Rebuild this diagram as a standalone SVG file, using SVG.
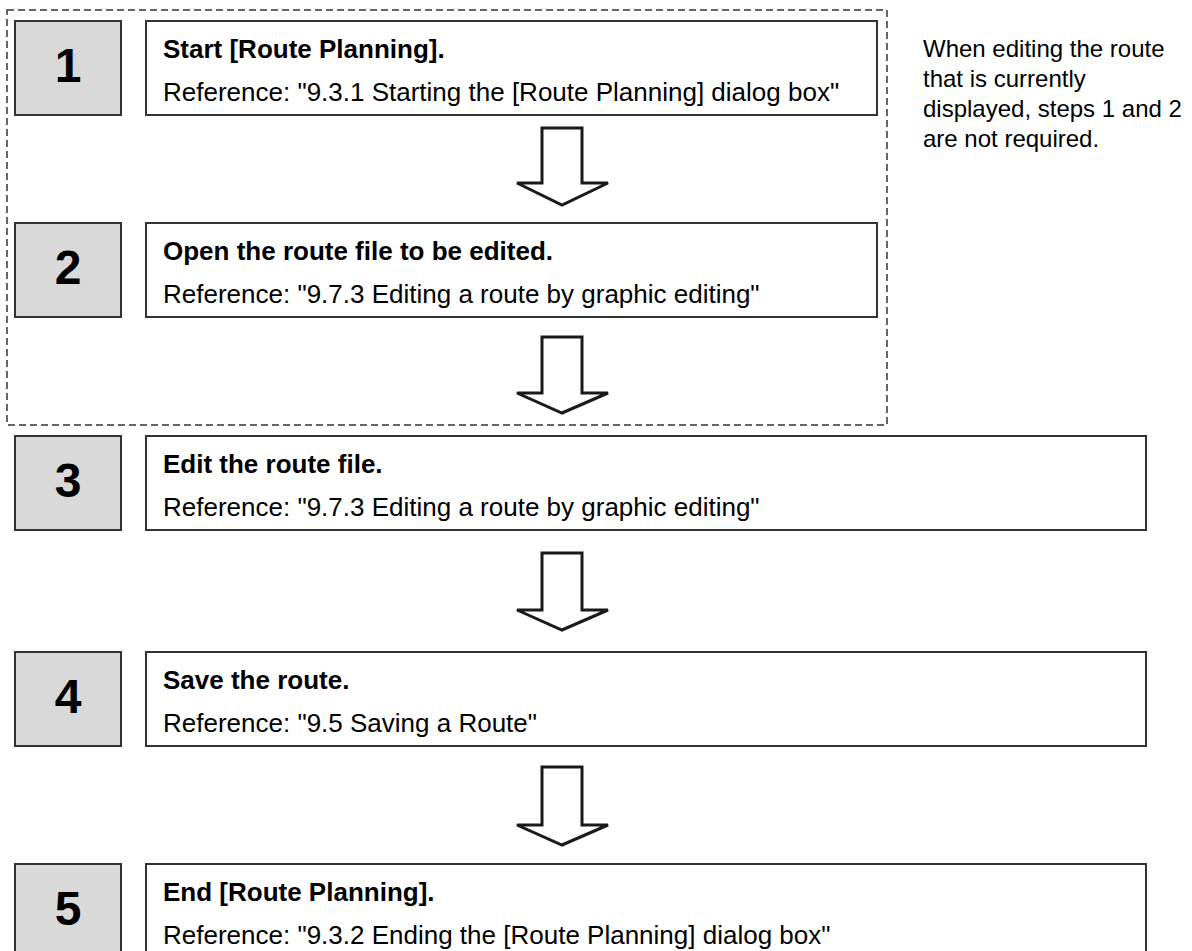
<svg xmlns="http://www.w3.org/2000/svg" width="1192" height="951" viewBox="0 0 1192 951">
<style>
.num{fill:#d9d9d9;stroke:#333;stroke-width:2}
.box{fill:#fff;stroke:#333;stroke-width:2}
.numt{font-family:"Liberation Sans",Arial,sans-serif;font-weight:bold;font-size:48px;fill:#000;text-anchor:middle}
.ttl{font-family:"Liberation Sans",Arial,sans-serif;font-weight:bold;font-size:26px;fill:#000}
.ref{font-family:"Liberation Sans",Arial,sans-serif;font-size:26px;fill:#000}
.note{font-family:"Liberation Sans",Arial,sans-serif;font-size:24px;fill:#000}
.arr{fill:#fff;stroke:#1a1a1a;stroke-width:3;stroke-linejoin:miter}
.dash{fill:none;stroke:#333;stroke-width:1.5;stroke-dasharray:7 4}
</style>
<rect width="1192" height="951" fill="#fff"/>
<rect id="group-1-2" class="dash" x="7" y="10" width="880" height="415"/>
<g id="step1">
<rect class="num" x="15" y="21" width="106" height="94"/>
<text class="numt" x="68" y="82">1</text>
<rect class="box" x="146" y="21" width="731" height="94"/>
<text class="ttl" x="163" y="58">Start [Route Planning].</text>
<text class="ref" x="163" y="101">Reference: "9.3.1 Starting the [Route Planning] dialog box"</text>
</g>
<g id="step2">
<rect class="num" x="15" y="223" width="106" height="94"/>
<text class="numt" x="68" y="284">2</text>
<rect class="box" x="146" y="223" width="731" height="94"/>
<text class="ttl" x="163" y="260">Open the route file to be edited.</text>
<text class="ref" x="163" y="303">Reference: "9.7.3 Editing a route by graphic editing"</text>
</g>
<g id="step3">
<rect class="num" x="15" y="436" width="106" height="94"/>
<text class="numt" x="68" y="497">3</text>
<rect class="box" x="146" y="436" width="1000" height="94"/>
<text class="ttl" x="163" y="473">Edit the route file.</text>
<text class="ref" x="163" y="516">Reference: "9.7.3 Editing a route by graphic editing"</text>
</g>
<g id="step4">
<rect class="num" x="15" y="652" width="106" height="94"/>
<text class="numt" x="68" y="713">4</text>
<rect class="box" x="146" y="652" width="1000" height="94"/>
<text class="ttl" x="163" y="689">Save the route.</text>
<text class="ref" x="163" y="732">Reference: "9.5 Saving a Route"</text>
</g>
<g id="step5">
<rect class="num" x="15" y="864" width="106" height="94"/>
<text class="numt" x="68" y="925">5</text>
<rect class="box" x="146" y="864" width="1000" height="94"/>
<text class="ttl" x="163" y="901">End [Route Planning].</text>
<text class="ref" x="163" y="944">Reference: "9.3.2 Ending the [Route Planning] dialog box"</text>
</g>
<g id="note">
<text class="note" x="923" y="57">When editing the route</text>
<text class="note" x="923" y="87">that is currently</text>
<text class="note" x="923" y="117">displayed, steps 1 and 2</text>
<text class="note" x="923" y="147">are not required.</text>
</g>
<g id="connectors">
<polygon class="arr" points="542,128 582,128 582,183 608,183 562,205 517,183 542,183"/>
<polygon class="arr" points="542,337 582,337 582,393 608,393 562,413 517,393 542,393"/>
<polygon class="arr" points="542,553 582,553 582,610 608,610 562,630 517,610 542,610"/>
<polygon class="arr" points="542,767 582,767 582,825 608,825 562,845 517,825 542,825"/>
</g>
</svg>
